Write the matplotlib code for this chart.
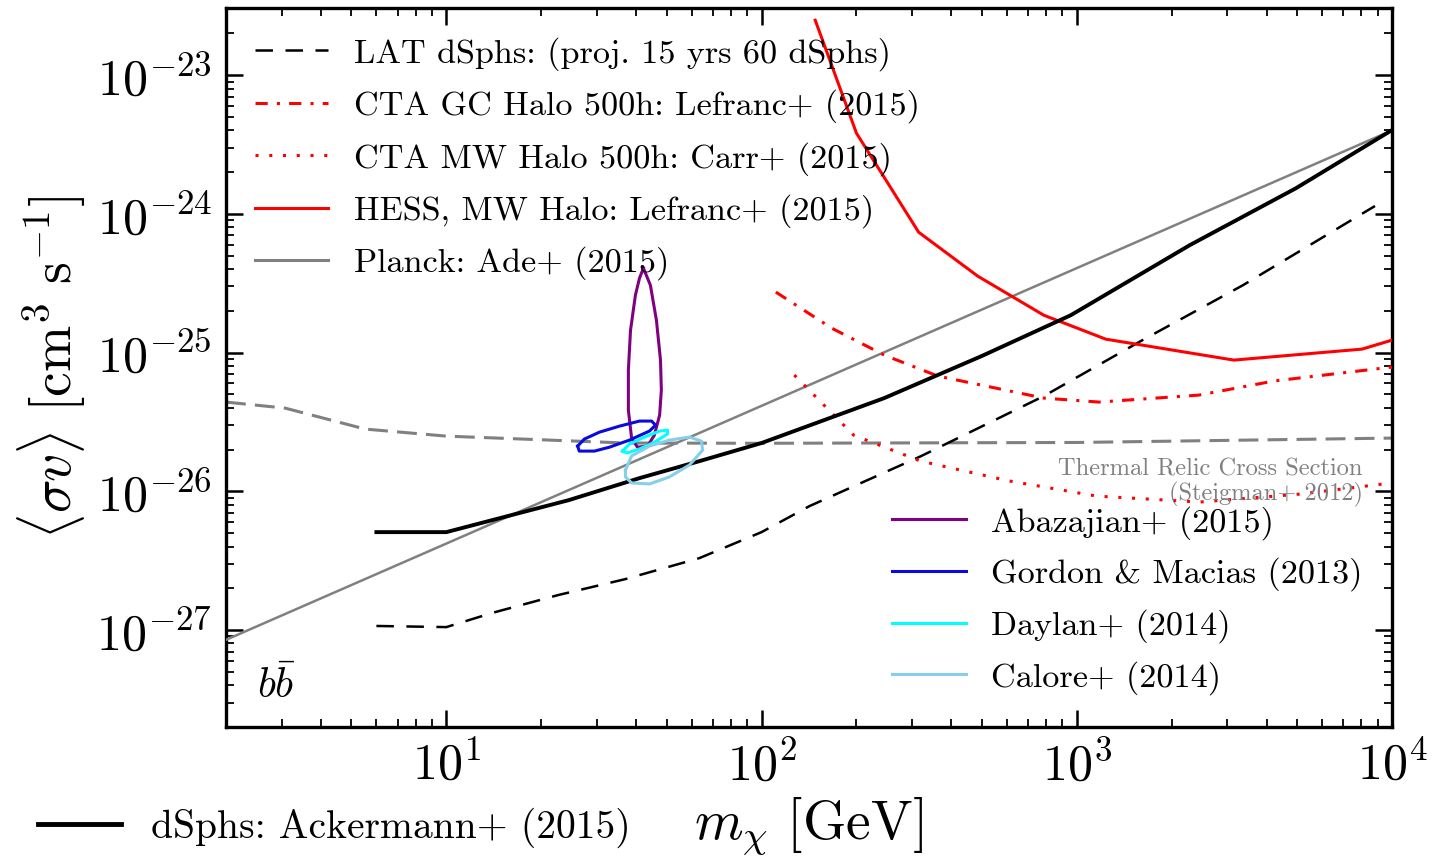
import numpy as np
import matplotlib
matplotlib.use("Agg")
import matplotlib.pyplot as plt
from matplotlib.lines import Line2D

plt.rcParams['font.family'] = ['cmr10', 'DejaVu Serif']
plt.rcParams['mathtext.fontset'] = 'cm'
plt.rcParams['axes.formatter.use_mathtext'] = True
plt.rcParams['axes.unicode_minus'] = True

# Fermi-LAT dSphs (Ackermann+ 2015)
m_dsph = [6, 10, 24.5, 41, 63.5, 100, 245, 499, 957, 2285, 4955, 1e4]
sv_dsph = [5.08e-27, 5.08e-27, 8.65e-27, 1.245e-26, 1.65e-26, 2.23e-26, 4.70e-26,
           9.44e-26, 1.86e-25, 5.96e-25, 1.53e-24, 4.02e-24]

# LAT projection 15 yrs, 60 dSphs
m_proj = [6, 10, 14, 22.7, 37, 63.5, 100, 142, 320, 786, 1595, 3365, 8830]
sv_proj = [1.07e-27, 1.05e-27, 1.33e-27, 1.79e-27, 2.33e-27, 3.30e-27, 5.08e-27,
           7.83e-27, 1.79e-26, 4.86e-26, 1.21e-25, 3.06e-25, 1.14e-24]

# CTA GC halo 500h (Lefranc+ 2015)
m_ctagc = [111, 167, 245, 362, 786, 1175, 2440, 4220, 1e4]
sv_ctagc = [2.73e-25, 1.50e-25, 9.6e-26, 6.78e-26, 4.70e-26, 4.40e-26, 4.94e-26, 6.24e-26, 7.87e-26]

# CTA MW halo 500h (Carr+ 2015)
m_ctamw = [127, 196, 320, 608, 1156, 2455, 5100, 1e4]
sv_ctamw = [6.89e-26, 2.54e-26, 1.65e-26, 1.19e-26, 9.24e-27, 8.37e-27, 9.55e-27, 1.15e-26]

# HESS MW halo (Lefranc+ 2015)
m_hess = [148, 200, 315, 485, 786, 1236, 3150, 8035, 1e4]
sv_hess = [2.49e-23, 3.82e-24, 7.38e-25, 3.56e-25, 1.86e-25, 1.25e-25, 8.83e-26, 1.06e-25, 1.23e-25]

# Planck (Ade+ 2015)
m_planck = [2, 1e4]
sv_planck = [8.5e-28, 4.0e-24]

# thermal relic (Steigman+ 2012)
m_relic = [2, 3.08, 5.53, 10, 37, 100, 1000, 1e4]
sv_relic = [4.40e-26, 3.98e-26, 2.81e-26, 2.50e-26, 2.23e-26, 2.22e-26, 2.25e-26, 2.42e-26]

# GC excess contours
m_abaz = [42.2, 44.4, 46.4, 47.8, 48.1, 47.5, 45.7, 43.5, 40.4, 38.7, 37.8, 37.8, 38.4, 39.8, 41.0, 42.2]
sv_abaz = [4.06e-25, 3.06e-25, 1.71e-25, 8.83e-26, 5.37e-26, 3.55e-26, 2.54e-26, 2.12e-26,
           2.08e-26, 2.42e-26, 3.85e-26, 7.48e-26, 1.45e-25, 2.60e-25, 3.44e-25, 4.06e-25]

m_gordon = [26.1, 27.4, 30.6, 35.4, 41.0, 44.8, 46.1, 44.1, 38.1, 32.9, 29.5, 26.4, 26.1]
sv_gordon = [2.12e-26, 2.38e-26, 2.67e-26, 2.95e-26, 3.21e-26, 3.21e-26, 3.00e-26, 2.72e-26,
             2.34e-26, 2.08e-26, 1.95e-26, 1.95e-26, 2.12e-26]

m_daylan = [36.2, 38.1, 42.5, 47.5, 50.3, 50.3, 45.7, 41.0, 37.5, 36.2]
sv_daylan = [1.95e-26, 2.19e-26, 2.46e-26, 2.72e-26, 2.76e-26, 2.59e-26, 2.26e-26, 2.02e-26,
             1.89e-26, 1.95e-26]

m_calore = [37.0, 38.7, 44.1, 51.0, 59.1, 64.5, 65.0, 59.1, 51.0, 44.1, 38.7, 37.0, 37.0]
sv_calore = [1.42e-26, 1.80e-26, 2.12e-26, 2.34e-26, 2.46e-26, 2.30e-26, 1.98e-26, 1.55e-26,
             1.27e-26, 1.13e-26, 1.15e-26, 1.27e-26, 1.42e-26]

fig = plt.figure(figsize=(14.37, 8.64), dpi=100)
ax = fig.add_axes([226/1437, 1-727/864, (1392-226)/1437, (727-8)/864])

ax.plot(m_relic, sv_relic, color='gray', lw=2.2, dashes=(6.5, 3), zorder=2)
ax.plot(m_planck, sv_planck, color='gray', lw=1.8, zorder=3)
l_proj, = ax.plot(m_proj, sv_proj, color='k', lw=1.8, dashes=(7, 5), zorder=3)
l_dsph, = ax.plot(m_dsph, sv_dsph, color='k', lw=2.8, zorder=4)
l_gc, = ax.plot(m_ctagc, sv_ctagc, color='red', lw=2.2, dashes=(4, 3, 1, 3), zorder=3)
l_mw, = ax.plot(m_ctamw, sv_ctamw, color='red', lw=2.2, dashes=(1, 3.5), zorder=3)
l_hess, = ax.plot(m_hess, sv_hess, color='red', lw=2.2, zorder=3)

l_ab, = ax.plot(m_abaz, sv_abaz, color='purple', lw=2.2, zorder=5)
l_go, = ax.plot(m_gordon, sv_gordon, color='#0a0ae0', lw=2.2, zorder=5)
l_da, = ax.plot(m_daylan, sv_daylan, color='cyan', lw=2.2, zorder=5)
l_ca, = ax.plot(m_calore, sv_calore, color='skyblue', lw=2.2, zorder=5)

ax.set_xscale('log')
ax.set_yscale('log')
ax.set_xlim(2, 1e4)
ax.set_ylim(2e-28, 3.05e-23)

for s in ax.spines.values():
    s.set_linewidth(2.4)
ax.tick_params(which='both', direction='in', top=True, right=True, labelsize=36)
ax.tick_params(which='major', length=12, width=1.8, pad=10)
ax.tick_params(which='minor', length=6, width=1.3)

ax.set_xlabel(r'$m_\chi\ [\mathrm{GeV}]$', fontsize=40, labelpad=4)
ax.set_ylabel(r'$\langle \sigma v\rangle\ [\mathrm{cm}^3\ \mathrm{s}^{-1}]$', fontsize=40, labelpad=6)

Planck = Line2D([], [], color='gray', lw=2.2)
leg1 = ax.legend([l_proj, l_gc, l_mw, l_hess, Planck],
                 ['LAT dSphs: (proj. 15 yrs 60 dSphs)', 'CTA GC Halo 500h: Lefranc+ (2015)',
                  'CTA MW Halo 500h: Carr+ (2015)', 'HESS, MW Halo: Lefranc+ (2015)',
                  'Planck: Ade+ (2015)'],
                 loc='upper left', bbox_to_anchor=(0.004, 0.993), frameon=False, fontsize=24.6,
                 handlelength=2.15, handletextpad=0.75, labelspacing=0.54, borderaxespad=0.3)
ax.add_artist(leg1)
ax.legend([l_ab, l_go, l_da, l_ca],
          ['Abazajian+ (2015)', 'Gordon & Macias (2013)', 'Daylan+ (2014)', 'Calore+ (2014)'],
          loc='lower left', bbox_to_anchor=(0.551, 0.0116), frameon=False, fontsize=24.6,
          handlelength=2.15, handletextpad=0.75, labelspacing=0.52, borderaxespad=0.3)

fig.legend([Line2D([], [], color='k', lw=3.5)], ['dSphs: Ackermann+ (2015)'],
           loc='center left', bbox_to_anchor=(38/1437, 1-828/864), frameon=False, fontsize=28.5,
           handlelength=2.1, handletextpad=0.75, borderpad=0, borderaxespad=0)

ax.text(0.975, 0.358, 'Thermal Relic Cross Section', transform=ax.transAxes, ha='right',
        va='center', fontsize=17.6, color='gray')
ax.text(0.975, 0.323, '(Steigman+ 2012)', transform=ax.transAxes, ha='right',
        va='center', fontsize=17.6, color='gray')
ax.text(0.027, 0.04, r'$b\bar{b}$', transform=ax.transAxes, fontsize=30)

fig.savefig('out.png', dpi=100)
